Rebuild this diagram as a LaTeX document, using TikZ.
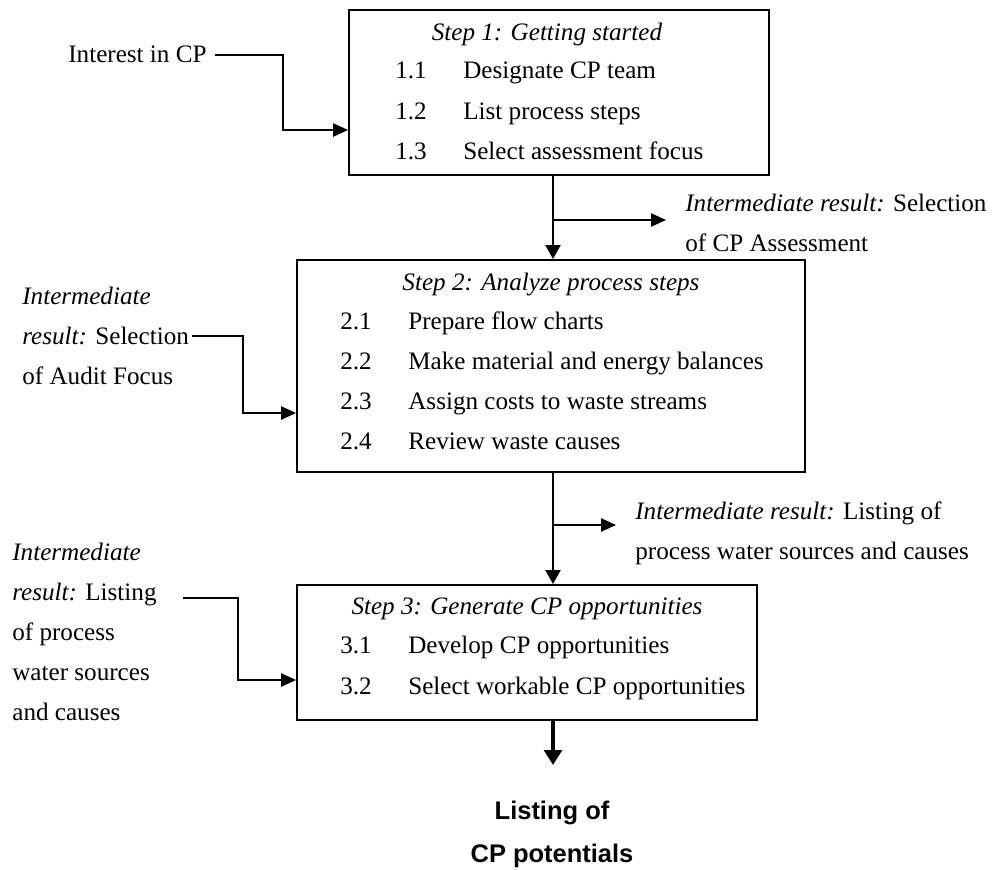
\documentclass[tikz,border=0pt]{standalone}
\usepackage{fontspec}
\setmainfont{Liberation Serif}
\newfontfamily\boldsans{Liberation Sans}
\usetikzlibrary{arrows.meta}

\begin{document}
\begin{tikzpicture}[x=0.02cm,y=-0.02cm,
    every node/.style={font=\fontsize{14.3}{22.7}\selectfont,inner sep=0pt},
    stepbox/.style={draw,line width=1.1pt},
    item/.style={anchor=base west},
    title/.style={anchor=base,font=\fontsize{14.3}{22.7}\selectfont\itshape},
    flow/.style={-{Triangle[length=8pt,width=8.5pt]},line width=1.5pt},
    feed/.style={-{Triangle[length=8.5pt,width=7.5pt]},line width=0.9pt}]
  \useasboundingbox (0,0) rectangle (994,869);

  % the three steps
  \node[stepbox,minimum width=8.4cm,minimum height=3.3cm] (box1) at (559,92.5) {};
  \node[stepbox,minimum width=10.16cm,minimum height=4.24cm] (box2) at (551,366) {};
  \node[stepbox,minimum width=9.2cm,minimum height=2.7cm] (box3) at (527,652.5) {};

  \node[title] (t1) at (547,40) {Step 1: Getting started};
  \node[item] (n11) at (395,78)  {1.1};  \node[item] (i11) at (463,78)  {Designate CP team};
  \node[item] (n12) at (395,119) {1.2};  \node[item] (i12) at (463,119) {List process steps};
  \node[item] (n13) at (395,159) {1.3};  \node[item] (i13) at (463,159) {Select assessment focus};

  \node[title] (t2) at (551,290) {Step 2: Analyze process steps};
  \node[item] (n21) at (340,329) {2.1};  \node[item] (i21) at (408,329) {Prepare flow charts};
  \node[item] (n22) at (340,369) {2.2};  \node[item] (i22) at (408,369) {Make material and energy balances};
  \node[item] (n23) at (340,409) {2.3};  \node[item] (i23) at (408,409) {Assign costs to waste streams};
  \node[item] (n24) at (340,449) {2.4};  \node[item] (i24) at (408,449) {Review waste causes};

  \node[title] (t3) at (527,614) {Step 3: Generate CP opportunities};
  \node[item] (n31) at (340,653) {3.1};  \node[item] (i31) at (408,653) {Develop CP opportunities};
  \node[item] (n32) at (340,694) {3.2};  \node[item] (i32) at (408,694) {Select workable CP opportunities};

  % inputs on the left
  \node[item] (cp) at (68,62) {Interest in CP};
  \node[anchor=west,align=left] (in2) at (22,336) {\textit{Intermediate}\\\textit{result:} Selection\\of Audit Focus};
  \node[anchor=west,align=left] (in3) at (12,632) {\textit{Intermediate}\\\textit{result:} Listing\\of process\\water sources\\and causes};

  % results on the right
  \node[anchor=west,align=left] (res1) at (685,223) {\textit{Intermediate result:} Selection\\of CP Assessment};
  \node[anchor=west,align=left] (res2) at (635,533) {\textit{Intermediate result:} Listing of\\process water sources and causes};
  \node[align=center,font=\fontsize{14.5}{24.4}\selectfont\boldsans\bfseries] (out) at (552,834) {Listing of\\CP potentials};

  \coordinate (spine) at (553,0);
  \coordinate (f1) at (215,55);
  \coordinate (f2) at (192,336);
  \coordinate (f3) at (183,598);
  \coordinate (end) at (553,765);

  \draw[flow] (spine |- box1.south) -- (spine |- box2.north);
  \draw[flow] (spine |- box2.south) -- (spine |- box3.north);
  \draw[-{Triangle[length=8.5pt,width=10pt]},line width=2.4pt] (spine |- box3.south) -- (end);

  \draw[feed] (spine |- 0,220) -- (666,220);
  \draw[feed] (spine |- 0,525) -- (616,525);

  \draw[feed] (f1) -| (283,130) -- (283,130 -| box1.west);
  \draw[feed] (f2) -| (243,413) -- (243,413 -| box2.west);
  \draw[feed] (f3) -| (238,680) -- (238,680 -| box3.west);
\end{tikzpicture}
\end{document}
